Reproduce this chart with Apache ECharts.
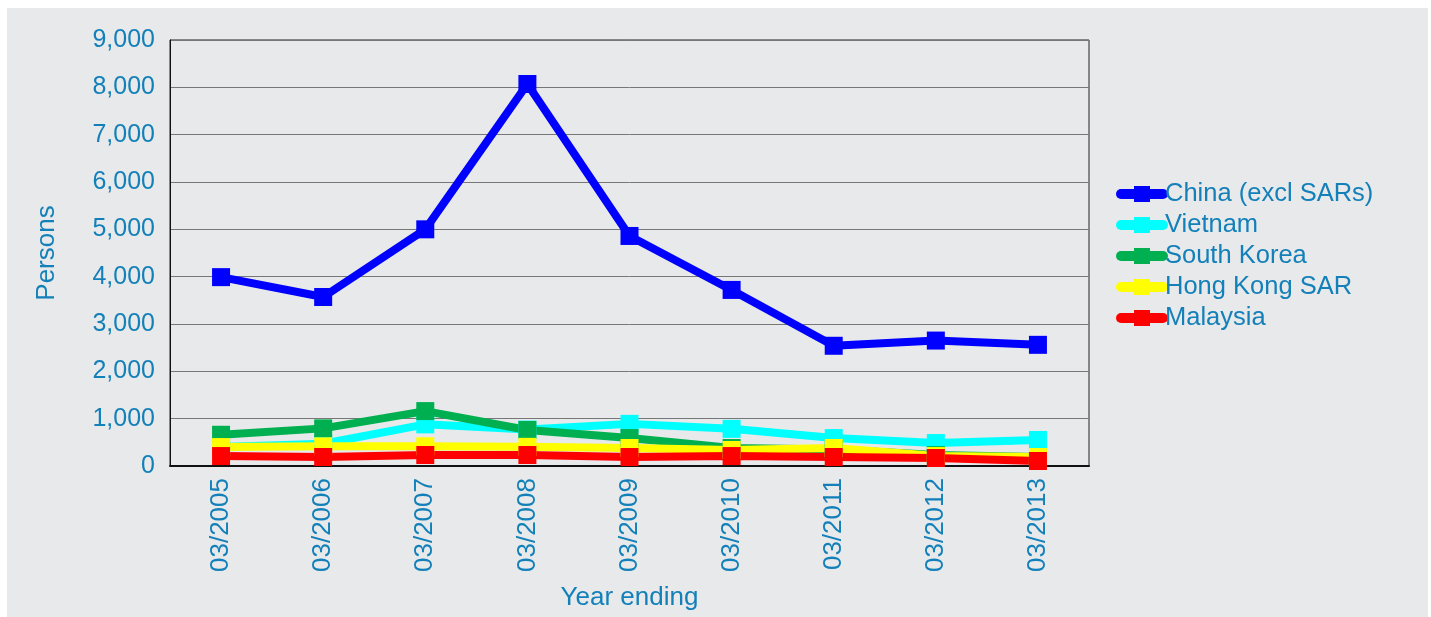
<!DOCTYPE html>
<html>
<head>
<meta charset="utf-8">
<script src="https://cdn.jsdelivr.net/npm/echarts@6/dist/echarts.min.js"></script>
<style>
  html, body { margin: 0; padding: 0; background: #ffffff; }
  #chart { width: 1431px; height: 617px; }
</style>
</head>
<body>
<div id="chart"></div>
<script>
const years = ['03/2005', '03/2006', '03/2007', '03/2008', '03/2009', '03/2010', '03/2011', '03/2012', '03/2013'];
const china = [3990, 3570, 5000, 8070, 4860, 3720, 2540, 2650, 2560];
const vietnam = [400, 470, 880, 770, 890, 785, 590, 485, 550];
const southKorea = [660, 795, 1160, 760, 590, 380, 350, 230, 190];
const hongKong = [400, 415, 416, 405, 380, 338, 380, 210, 190];
const malaysia = [210, 190, 232, 232, 190, 210, 190, 169, 106];

const textColor = '#1380b9';
const font = 'Liberation Sans';

const mk = (name, data, color) => ({
    name: name,
    type: 'line',
    data: data,
    symbol: 'rect',
    symbolSize: 18,
    showAllSymbol: true,
    itemStyle: { color: color },
    lineStyle: { color: color, width: 8 },
    emphasis: { disabled: true },
    animation: false
});

const chart = echarts.init(document.getElementById('chart'));
chart.setOption({
    backgroundColor: '#ffffff',
    animation: false,
    graphic: [{
        type: 'rect',
        z: -10,
        shape: { x: 7, y: 8, width: 1421, height: 609 },
        style: { fill: '#e8e9eb' }
    }],
    grid: {
        left: 170, right: 342, top: 40, bottom: 151,
        outerBoundsMode: 'none',
        show: true, borderColor: '#222', borderWidth: 1
    },
    legend: {
        orient: 'vertical',
        left: 1111, top: 176,
        itemWidth: 42, itemHeight: 20,
        itemGap: 5,
        lineStyle: { width: 10, cap: 'round' },
        textStyle: { color: textColor, fontSize: 25.5, fontFamily: font, padding: [0, 0, 0, -3] },
        data: ['China (excl SARs)', 'Vietnam', 'South Korea', 'Hong Kong SAR', 'Malaysia']
    },
    xAxis: {
        type: 'category',
        data: years,
        name: 'Year ending',
        nameLocation: 'middle',
        nameGap: 119,
        nameTextStyle: { color: textColor, fontSize: 26, fontFamily: font },
        axisLine: { lineStyle: { color: '#111', width: 2 } },
        axisTick: { show: false },
        axisLabel: { rotate: 90, margin: 12, color: textColor, fontSize: 26, fontFamily: font }
    },
    yAxis: {
        type: 'value',
        min: 0, max: 9000, interval: 1000,
        name: 'Persons',
        nameLocation: 'middle',
        nameGap: 110,
        nameTextStyle: { color: textColor, fontSize: 26, fontFamily: font },
        axisLine: { show: true, lineStyle: { color: '#111', width: 1 } },
        axisTick: { show: false },
        splitLine: { lineStyle: { color: '#777', width: 1 } },
        axisLabel: {
            margin: 15, color: textColor, fontSize: 25, fontFamily: font,
            formatter: v => v.toLocaleString('en-US')
        }
    },
    series: [
        mk('China (excl SARs)', china, '#0000ff'),
        mk('Vietnam', vietnam, '#00ffff'),
        mk('South Korea', southKorea, '#00b050'),
        mk('Hong Kong SAR', hongKong, '#ffff00'),
        mk('Malaysia', malaysia, '#ff0000')
    ]
});
</script>
</body>
</html>
